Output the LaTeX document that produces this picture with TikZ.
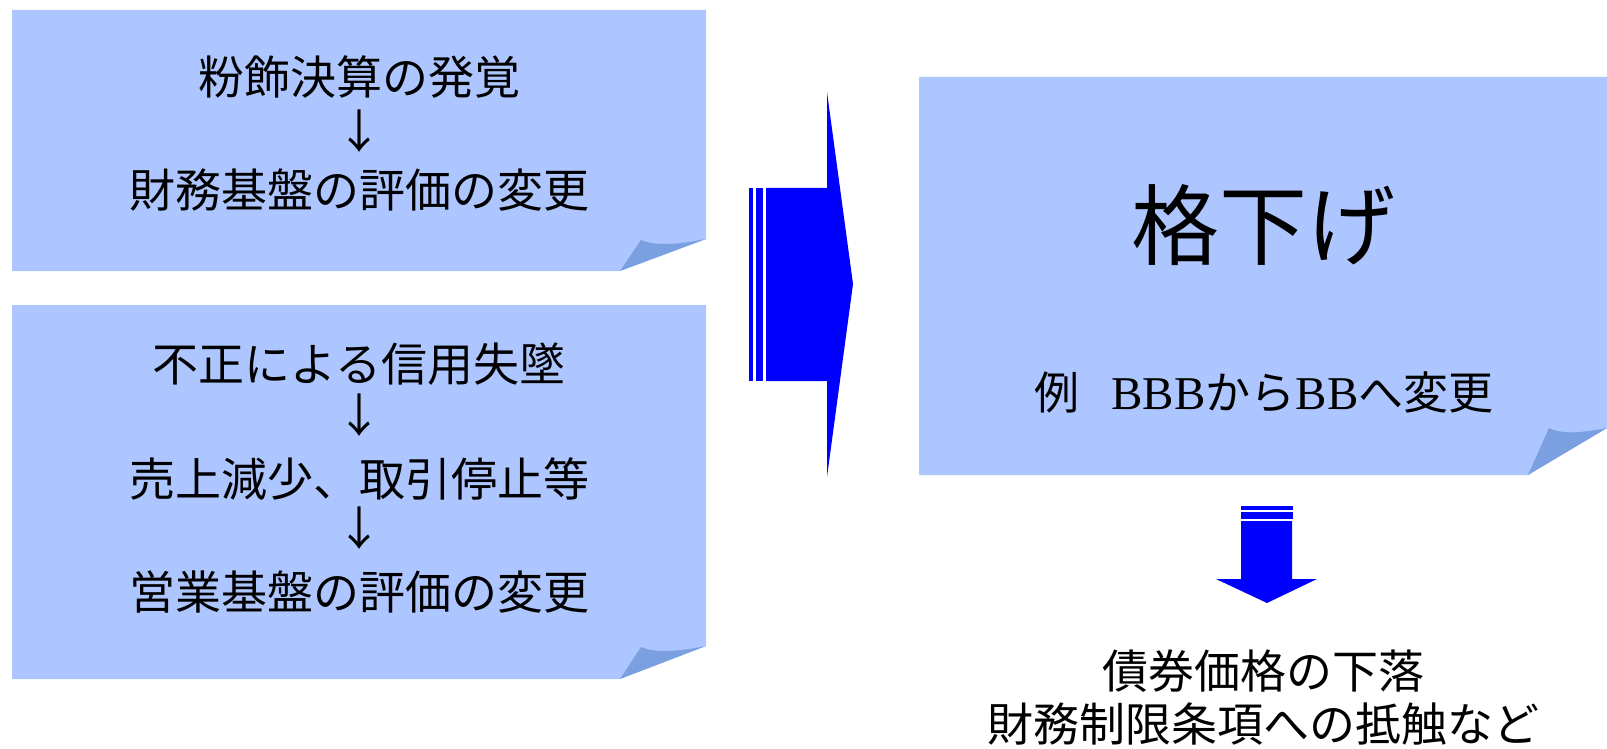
\documentclass[tikz,border=0pt]{standalone}
\usepackage{fontspec}
\newfontfamily\jp{Noto Sans CJK JP}
\newfontfamily\lat{Liberation Serif}
\definecolor{boxfill}{RGB}{174,198,255}
\definecolor{foldfill}{RGB}{122,160,226}
\definecolor{arrowblue}{RGB}{0,0,255}
\begin{document}
\begin{tikzpicture}[x=1pt,y=-1pt,
  boxshape/.style={fill=boxfill,draw=none},
  foldshape/.style={fill=foldfill,draw=none},
  arrowshape/.style={fill=arrowblue,draw=none},
  txt/.style={font=\jp\fontsize{46}{50}\selectfont,inner sep=0pt,anchor=center}]
\useasboundingbox (0,0) rectangle (1607,749);
% box 1
\fill[boxshape] (12,10) -- (706,10) -- (706,239) -- (620,271) -- (12,271) -- cycle;
\fill[foldshape] (620,271) -- (641,240) .. controls (660,248) and (690,242) .. (706,239) -- cycle;
% box 2
\fill[boxshape] (12,305) -- (706,305) -- (706,646) -- (620,679) -- (12,679) -- cycle;
\fill[foldshape] (620,679) -- (641,647) .. controls (660,655) and (690,649) .. (706,646) -- cycle;
% box 3
\fill[boxshape] (919,77) -- (1607,77) -- (1607,428) -- (1528,475) -- (919,475) -- cycle;
\fill[foldshape] (1528,475) -- (1549,428) .. controls (1565,436) and (1590,431) .. (1607,428) -- cycle;
% big right arrow
\fill[arrowshape] (749,188) rectangle (753,381);
\fill[arrowshape] (756,188) rectangle (763,381);
\fill[arrowshape] (766,188) -- (827,188) -- (827,92) -- (853,284) -- (827,477) -- (827,381) -- (766,381) -- cycle;
% small down arrow
\fill[arrowshape] (1241,506) rectangle (1293,510);
\fill[arrowshape] (1241,512) rectangle (1293,519);
\fill[arrowshape] (1241,521) -- (1292,521) -- (1292,579) -- (1317,579) -- (1267,603) -- (1216,579) -- (1241,579) -- cycle;
% texts box 1
\node[txt] (a1) at (359,77) {粉飾決算の発覚};
\node[txt] (a2) at (359,131) {↓};
\node[txt] (a3) at (359,190) {財務基盤の評価の変更};
% texts box 2
\node[txt] (b1) at (359,364) {不正による信用失墜};
\node[txt] (b2) at (359,415) {↓};
\node[txt] (b3) at (359,479) {売上減少、取引停止等};
\node[txt] (b4) at (359,528) {↓};
\node[txt] (b5) at (359,592) {営業基盤の評価の変更};
% box 3
\node[txt,font=\jp\fontsize{88}{90}\selectfont] (c1) at (1263,225) {格下げ};
\node[txt,font=\jp\fontsize{45}{48}\selectfont] (c2) at (1264,392) {例\hspace{32pt}{\lat\fontsize{47}{48}\selectfont BBB}から{\lat\fontsize{47}{48}\selectfont BB}へ変更};
% bottom
\node[txt] (d1) at (1263,671) {債券価格の下落};
\node[txt] (d2) at (1263,724) {財務制限条項への抵触など};
\end{tikzpicture}
\end{document}
